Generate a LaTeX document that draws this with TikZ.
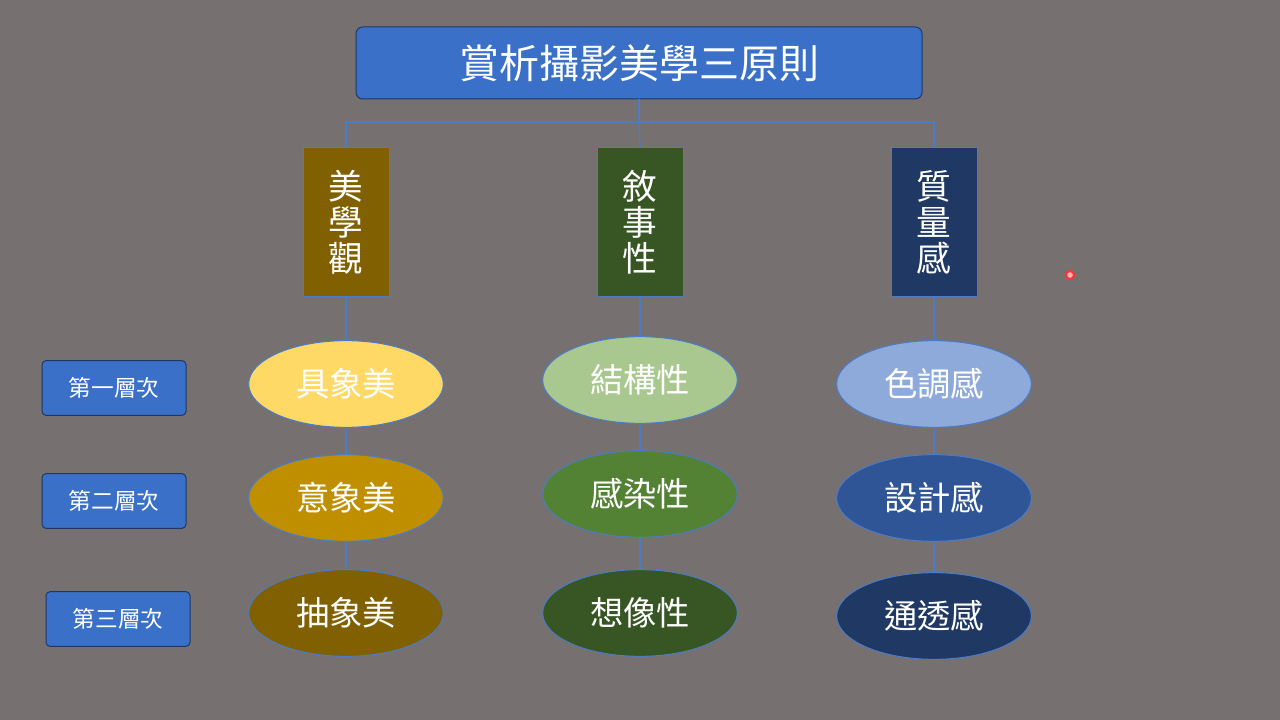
\documentclass[tikz,border=0pt]{standalone}
\usepackage{fontspec}
\newfontfamily\cjk{Noto Sans CJK TC}
\usetikzlibrary{positioning,shapes.geometric}
\definecolor{bgGray}{RGB}{118,112,112}
\definecolor{boxBlue}{RGB}{58,112,200}
\definecolor{lineBlue}{RGB}{74,124,200}
\definecolor{colBrown}{RGB}{128,96,0}
\definecolor{colGreen}{RGB}{55,86,35}
\definecolor{colNavy}{RGB}{31,56,100}
\definecolor{elYellow}{RGB}{255,217,102}
\definecolor{elGold}{RGB}{191,143,0}
\definecolor{elLGreen}{RGB}{169,200,143}
\definecolor{elMGreen}{RGB}{84,130,53}
\definecolor{elLBlue}{RGB}{142,170,219}
\definecolor{elMBlue}{RGB}{47,85,151}
\tikzset{every picture/.style={line width=0.75pt}}
\tikzset{
  titlebox/.style={draw=colNavy,fill=boxBlue,rounded corners=5pt,minimum width=424.5pt,minimum height=54pt,text=white,font=\cjk\fontsize{30}{30}\selectfont},
  colbox/.style={draw=lineBlue,minimum width=64.5pt,minimum height=111pt,text=white,font=\cjk\fontsize{26}{27}\selectfont,align=center},
  elnode/.style={ellipse,draw=lineBlue,minimum width=146pt,minimum height=65pt,text=white,font=\cjk\fontsize{25}{25}\selectfont},
  levelbox/.style={draw=colNavy,fill=boxBlue,rounded corners=3pt,minimum width=108pt,minimum height=41pt,text=white,font=\cjk\fontsize{17}{17}\selectfont},
  link/.style={draw=lineBlue,line width=1pt}
}
\begin{document}
\begin{tikzpicture}[x=0.75pt,y=0.75pt,yscale=-1,xscale=1]
\fill[bgGray] (0,0) rectangle (1280,720);
\useasboundingbox (0,0) rectangle (1280,720);

% title
\node[titlebox] (title) at (639,63) {賞析攝影美學三原則};

% columns
\node[colbox,fill=colBrown] (aes) at (346,222) {美\\學\\觀};
\node[colbox,fill=colGreen] (nar) at (640,222) {敘\\事\\性};
\node[colbox,fill=colNavy] (qua) at (934,222) {質\\量\\感};

% tree
\coordinate (split) at (639,122);
\draw[link] (title.south) -- (split);
\draw[link] (aes.north) |- (split) -| (qua.north);
\draw[link] (split) -- (nar.north);

% ellipses
\node[elnode,fill=elYellow] (a1) at (346,384) {具象美};
\node[elnode,fill=elGold] (a2) at (346,498) {意象美};
\node[elnode,fill=colBrown] (a3) at (346,613) {抽象美};
\node[elnode,fill=elLGreen] (n1) at (640,380) {結構性};
\node[elnode,fill=elMGreen] (n2) at (640,494) {感染性};
\node[elnode,fill=colGreen] (n3) at (640,613) {想像性};
\node[elnode,fill=elLBlue] (q1) at (934,384) {色調感};
\node[elnode,fill=elMBlue] (q2) at (934,498) {設計感};
\node[elnode,fill=colNavy] (q3) at (934,616) {通透感};

\foreach \c in {a,n,q}{
  \draw[link] (\c1) -- (\c2);
  \draw[link] (\c2) -- (\c3);
}
\draw[link] (aes) -- (a1);
\draw[link] (nar) -- (n1);
\draw[link] (qua) -- (q1);

% levels
\node[levelbox] (lv1) at (114,388) {第一層次};
\node[levelbox] (lv2) at (114,501) {第二層次};
\node[levelbox] (lv3) at (118,619) {第三層次};

% pointer dot
\draw[red!80!white,fill=red!30!white,line width=1.5pt] (1070,275) circle (4);
\end{tikzpicture}
\end{document}
